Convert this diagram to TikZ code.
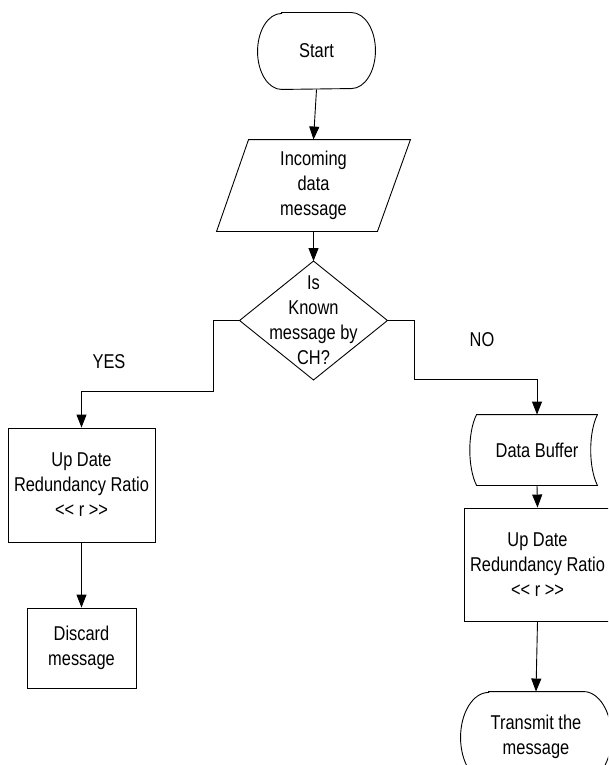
\documentclass[tikz,border=0pt]{standalone}
\usepackage{fontspec}
\setmainfont{Liberation Sans}[FakeStretch=0.82]
\usetikzlibrary{arrows.meta}
\tikzset{
  lbl/.style={inner sep=0pt, align=center, font=\fontsize{20pt}{25pt}\selectfont},
  boxed/.style={lbl, draw},
  conn/.style={draw, line width=0.9pt, -{Triangle[length=13pt,width=10pt]}},
  outline/.style={draw, line width=0.9pt},
}
\begin{document}
\begin{tikzpicture}[x=1pt,y=1pt, line width=0.9pt]
\useasboundingbox (0,0) rectangle (608,-765);
\clip (0,0) rectangle (608,-765);

% nodes
\node[lbl, minimum width=117pt, minimum height=76pt] (S) at (316.5,-51) {Start};
\node[lbl, minimum width=193pt, minimum height=91pt] (P) at (313.5,-185.5) {Incoming\\data\\message};
\node[lbl, minimum width=147pt, minimum height=118pt] (D) at (313.5,-320.5) {Is\\Known\\message by\\CH?};
\node[boxed, minimum width=147pt, minimum height=114pt] (L) at (81.5,-485) {Up Date\\Redundancy Ratio\\{<}{<} r {>}{>}};
\node[boxed, minimum width=109pt, minimum height=80pt] (Dc) at (81.5,-648) {Discard\\message};
\node[lbl, minimum width=120pt, minimum height=70pt] (B) at (537,-450) {Data Buffer};
\node[boxed, minimum width=147pt, minimum height=113pt] (R) at (537.5,-564.5) {Up Date\\Redundancy Ratio\\{<}{<} r {>}{>}};
\node[lbl, minimum width=150pt, minimum height=90pt] (T) at (536,-737) {Transmit the\\message};
\node[lbl] (yes) at (109,-362) {YES};
\node[lbl] (no) at (482,-340) {NO};

% custom outlines
\draw[outline] ([xshift=24pt]S.north west) -- ([xshift=-24pt]S.north east)
  arc[start angle=90, end angle=-90, x radius=24pt, y radius=38pt]
  -- ([xshift=24pt]S.south west)
  arc[start angle=270, end angle=90, x radius=24pt, y radius=38pt] -- cycle;
\draw[outline] ([xshift=32pt]P.north west) -- (P.north east)
  -- ([xshift=-33pt]P.south east) -- (P.south west) -- cycle;
\draw[outline] (D.north) -- (D.east) -- (D.south) -- (D.west) -- cycle;
\draw[outline] (B.north west) -- (B.north east)
  .. controls +(-9,-18) and +(-9,18) .. (B.south east)
  -- (B.south west)
  .. controls +(-9,18) and +(-9,-18) .. (B.north west) -- cycle;
\draw[outline] ([xshift=28pt]T.north west) -- ([xshift=-28pt]T.north east)
  arc[start angle=90, end angle=-90, x radius=28pt, y radius=45pt]
  -- ([xshift=28pt]T.south west)
  arc[start angle=270, end angle=90, x radius=28pt, y radius=45pt] -- cycle;

% connectors
\coordinate (yb) at (213,-391);
\coordinate (nb) at (414,-379);
\draw[conn] (S.south) -- (P.north);
\draw[conn] (P.south) -- (D.north);
\draw[conn] (D.west) -| (yb) -| (L.north);
\draw[conn] (D.east) -| (nb) -| (B.north);
\draw[conn] (L.south) -- (Dc.north);
\draw[conn] (B.south) -- (R.north);
\draw[conn] (R.south) -- (T.north);
\end{tikzpicture}
\end{document}
